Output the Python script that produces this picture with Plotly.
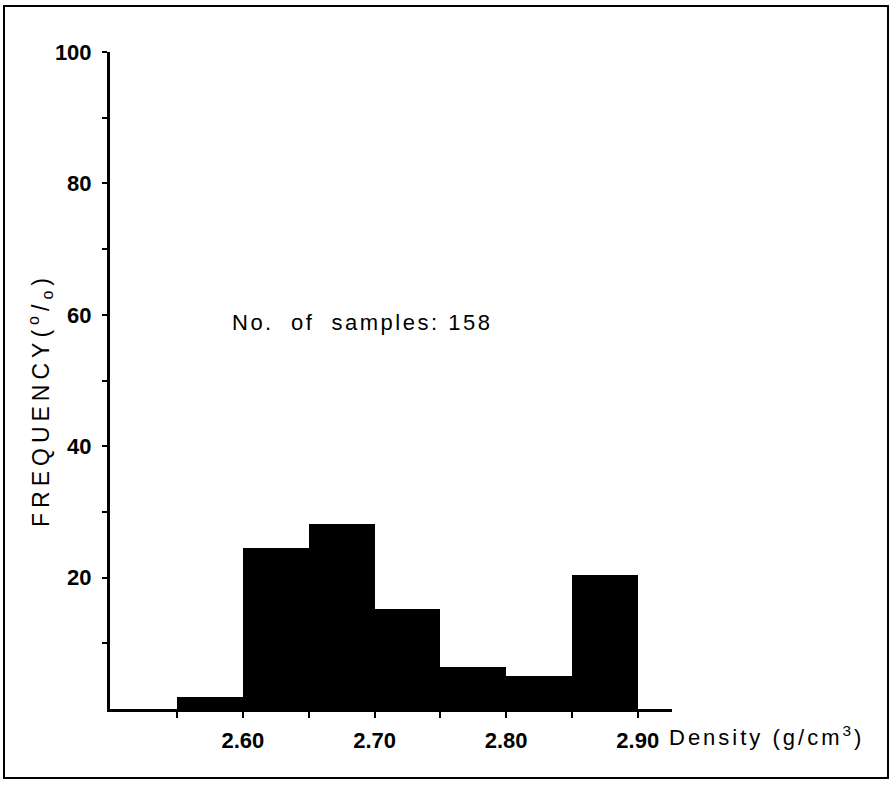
import plotly.graph_objects as go

# Data
bin_left = [2.55, 2.60, 2.65, 2.70, 2.75, 2.80, 2.85]
bin_width = 0.05
frequency = [1.8, 24.5, 28.2, 15.2, 6.4, 5.0, 20.4]

x_tickvals = [2.55, 2.60, 2.65, 2.70, 2.75, 2.80, 2.85, 2.90]
x_ticktext = ["", "2.60", "", "2.70", "", "2.80", "", "2.90"]
y_tickvals = [10, 20, 30, 40, 50, 60, 70, 80, 90, 100]
y_ticktext = ["", "20", "", "40", "", "60", "", "80", "", "100"]

centers = [b + bin_width / 2 for b in bin_left]

fig = go.Figure()
fig.add_trace(go.Bar(
    x=centers, y=frequency, width=bin_width,
    marker=dict(color="black", line=dict(width=0)),
    showlegend=False, hoverinfo="skip",
))

W, H = 894, 785
ml, mr, mt, mb = 110, 222, 52, 76
pw, ph = W - ml - mr, H - mt - mb

def px_x(p):
    return (p - ml) / pw

def px_y(p):
    return (H - mb - p) / ph

fig.update_layout(
    width=W, height=H,
    margin=dict(l=ml, r=mr, t=mt, b=mb),
    paper_bgcolor="white", plot_bgcolor="white",
    bargap=0,
    font=dict(family="Liberation Sans, Arial, sans-serif", color="black"),
    xaxis=dict(
        range=[2.499, 2.926], showgrid=False, zeroline=False,
        showline=True, linewidth=3, linecolor="black",
        ticks="outside", ticklen=6, tickwidth=2, tickcolor="black",
        tickvals=x_tickvals, ticktext=x_ticktext,
        ticklabelstandoff=4,
        tickfont=dict(size=22, weight="bold", color="black"),
    ),
    yaxis=dict(
        range=[0, 100], showgrid=False, zeroline=False,
        showline=True, linewidth=3, linecolor="black",
        ticks="outside", ticklen=5, tickwidth=2, tickcolor="black",
        tickvals=y_tickvals, ticktext=y_ticktext,
        ticklabelstandoff=6,
        tickfont=dict(size=22, weight="bold", color="black"),
    ),
    shapes=[dict(
        type="rect", xref="paper", yref="paper",
        x0=px_x(4), x1=px_x(888), y0=px_y(778), y1=px_y(6),
        line=dict(color="black", width=2), fillcolor="rgba(0,0,0,0)",
        layer="below",
    )],
    annotations=[
        dict(
            text="<span style='letter-spacing:2.5px'>No.&nbsp; of&nbsp; samples: 158</span>",
            xref="paper", yref="paper",
            x=px_x(230), y=px_y(322), xanchor="left", yanchor="middle",
            showarrow=False,
            font=dict(size=22, color="black"),
        ),
        dict(
            text="<span style='letter-spacing:3px'>Density (g/cm<sup>3</sup>)</span>",
            xref="paper", yref="paper",
            x=px_x(667), y=px_y(736), xanchor="left", yanchor="middle",
            showarrow=False,
            font=dict(size=22, color="black"),
        ),
        dict(
            text="<span style='letter-spacing:5px'>FREQUENCY(<sup>o</sup>/<sub>o</sub>)</span>",
            xref="paper", yref="paper",
            x=px_x(40), y=px_y(400), xanchor="center", yanchor="middle",
            textangle=-90, showarrow=False,
            font=dict(size=23, color="black"),
        ),
    ],
)

fig.write_html(
    "out.html",
    config={"displayModeBar": False, "staticPlot": True},
    post_script="document.body.style.margin='0px';document.body.style.padding='0px';",
)
